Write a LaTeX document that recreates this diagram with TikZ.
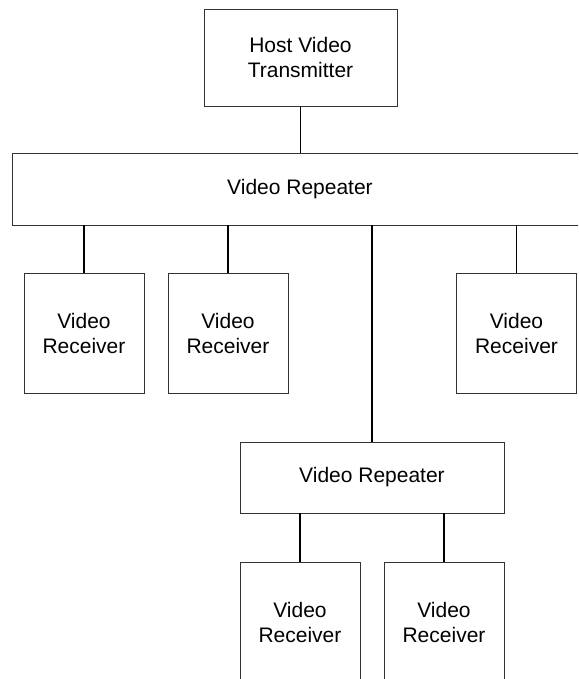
\documentclass[tikz,border=0pt]{standalone}
\usepackage{fontspec}
\setmainfont{Liberation Sans}
\begin{document}
\begin{tikzpicture}[x=1pt,y=-1pt,
  box/.style={draw=black!80, line width=0.9pt, fill=white, align=center, inner sep=0pt,
    font=\fontsize{21}{25}\selectfont},
  recv/.style={box, minimum width=120pt, minimum height=120pt},
  link/.style={draw=black, line width=1.4pt}]
\clip (0,0) rectangle (578,679);
\fill[white] (0,0) rectangle (578,679);
\node[box, minimum width=193pt, minimum height=97pt] (host) at (300.5,57.5) {Host Video\\Transmitter};
\node[box, minimum width=576pt, minimum height=72pt] (rep1) at (300,189) {Video Repeater};
\node[recv] (r1) at (84,333) {Video\\Receiver};
\node[recv] (r2) at (228,333) {Video\\Receiver};
\node[recv] (r3) at (516.5,333) {Video\\Receiver};
\node[box, minimum width=264pt, minimum height=71pt] (rep2) at (372,477.5) {Video Repeater};
\node[recv] (r4) at (300,622) {Video\\Receiver};
\node[recv] (r5) at (444,622) {Video\\Receiver};
\draw[link] (host.south) -- (rep1.north -| host.south);
\draw[link] (rep1.south -| r1.north) -- (r1.north);
\draw[link] (rep1.south -| r2.north) -- (r2.north);
\draw[link] (rep1.south -| r3.north) -- (r3.north);
\draw[link] (rep1.south -| rep2.north) -- (rep2.north);
\draw[link] (rep2.south -| r4.north) -- (r4.north);
\draw[link] (rep2.south -| r5.north) -- (r5.north);
\end{tikzpicture}
\end{document}
